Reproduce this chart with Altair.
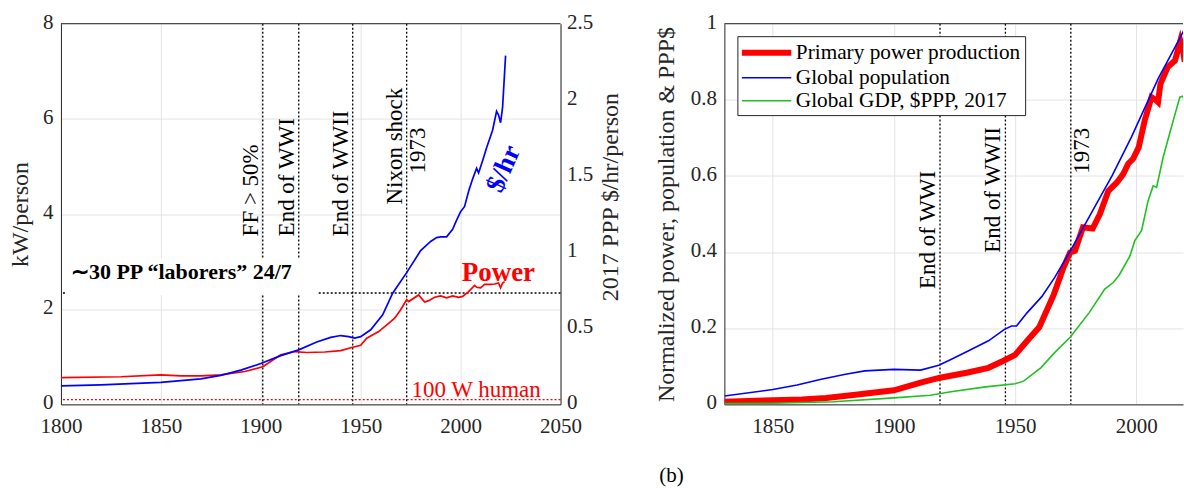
import altair as alt
import pandas as pd

FONT = "Liberation Serif"
INK = "#262626"

# ---------------- Panel (a): per-person power and wage ----------------
power_years = [1800, 1830, 1850, 1860, 1870, 1880, 1885, 1892, 1901, 1910, 1917, 1923,
               1932, 1940, 1946, 1950, 1953, 1959, 1965, 1967, 1970, 1973, 1974, 1979,
               1982, 1984, 1987, 1990, 1993, 1996, 1999, 2001, 2004, 2007, 2008, 2010,
               2012, 2015, 2017, 2019, 2020, 2021, 2022]
power_kw = [0.56, 0.58, 0.62, 0.60, 0.60, 0.62, 0.65, 0.69, 0.79, 1.04, 1.11, 1.09,
            1.10, 1.13, 1.20, 1.24, 1.39, 1.53, 1.74, 1.81, 1.99, 2.20, 2.16, 2.30,
            2.15, 2.18, 2.25, 2.28, 2.24, 2.28, 2.25, 2.27, 2.37, 2.50, 2.46, 2.45,
            2.52, 2.52, 2.53, 2.55, 2.45, 2.55, 2.58]

wage_years = [1800, 1820, 1850, 1870, 1880, 1890, 1900, 1910, 1919, 1928, 1935, 1940,
              1944, 1947, 1950, 1955, 1961, 1966, 1973, 1980, 1985, 1988, 1990, 1993,
              1996, 1998, 2000, 2002, 2004, 2006, 2008, 2009, 2011, 2013, 2016, 2018,
              2019, 2020, 2021, 2022.5]
wage_usd = [0.121, 0.128, 0.145, 0.167, 0.190, 0.225, 0.268, 0.320, 0.358, 0.410, 0.440, 0.452,
            0.445, 0.435, 0.445, 0.490, 0.588, 0.730, 0.865, 1.010, 1.070, 1.095, 1.100, 1.100,
            1.150, 1.210, 1.265, 1.300, 1.400, 1.480, 1.550, 1.520, 1.600, 1.685, 1.800, 1.925,
            1.900, 1.850, 1.950, 2.290]

events_a_years = [1901, 1919, 1946, 1973]
events_a_labels = ["FF > 50%", "End of WWI", "End of WWII", "Nixon shock"]
laborers_kw = 2.34
human_kw = 0.1

# ---------------- Panel (b): normalized series ----------------
series_names = ["Primary power production", "Global population", "Global GDP, $PPP, 2017"]

pp_years = [1830, 1850, 1862, 1872, 1885, 1900, 1911, 1919, 1930, 1939, 1945, 1950, 1955,
            1960, 1966, 1970, 1972.7, 1974.7, 1978, 1982, 1985, 1988.5, 1992, 1994.6,
            1996.7, 1998.7, 2001, 2003.5, 2006.3, 2008, 2009, 2010, 2013, 2016, 2018.2,
            2019.3, 2020]
pp_vals = [0.007, 0.011, 0.013, 0.017, 0.026, 0.037, 0.057, 0.070, 0.083, 0.096, 0.114, 0.130,
           0.167, 0.203, 0.289, 0.360, 0.399, 0.403, 0.465, 0.462, 0.500, 0.561, 0.583, 0.605,
           0.632, 0.645, 0.675, 0.746, 0.807, 0.800, 0.794, 0.842, 0.886, 0.903, 0.955,
           0.930, 0.900]

pop_years = [1830, 1850, 1860, 1870, 1880, 1888, 1900, 1911, 1918.5, 1923.5, 1930.6, 1939,
             1945.6, 1948.5, 1950.6, 1955, 1961, 1966.3, 1972.8, 1984.3, 1990, 1998, 2009,
             2018.6, 2021]
pop_vals = [0.022, 0.039, 0.051, 0.066, 0.079, 0.088, 0.092, 0.090, 0.103, 0.118, 0.140, 0.167,
            0.197, 0.206, 0.206, 0.241, 0.283, 0.333, 0.403, 0.535, 0.600, 0.702, 0.855,
            0.969, 1.000]

gdp_years = [1830, 1850, 1875, 1900, 1915, 1923.5, 1937.8, 1950, 1953.5, 1960.6, 1966.3,
             1972.8, 1980.6, 1987, 1990.5, 1993, 1997.4, 1999.4, 2002.2, 2004.9, 2007,
             2008.4, 2011.1, 2014.5, 2018, 2019.3, 2020]
gdp_vals = [0.002, 0.003, 0.007, 0.017, 0.024, 0.033, 0.046, 0.054, 0.061, 0.096, 0.136,
            0.177, 0.241, 0.303, 0.320, 0.340, 0.390, 0.430, 0.456, 0.535, 0.574,
            0.570, 0.649, 0.728, 0.807, 0.810, 0.790]

events_b_years = [1919, 1946, 1973]
events_b_labels = ["End of WWI", "End of WWII", "1973"]

# =====================================================================
# Panel (a)
# =====================================================================
xa = alt.X("year:Q", scale=alt.Scale(domain=[1800, 2050], nice=False, zero=False),
           axis=alt.Axis(values=[1800, 1850, 1900, 1950, 2000, 2050], format="d",
                         title=None, grid=True, tickSize=0, labelPadding=11))
ya = alt.Y("kw:Q", scale=alt.Scale(domain=[0, 8], nice=False, zero=True),
           axis=alt.Axis(values=[0, 2, 4, 6, 8], format="~g", title="kW/person",
                         grid=True, tickSize=0, labelPadding=8, titlePadding=10,
                         labelOffset=-1.5))

df_power = pd.DataFrame({"year": power_years, "kw": power_kw})
df_wage = pd.DataFrame({"year": wage_years, "usd": wage_usd})

vlines_a = alt.Chart(pd.DataFrame({"year": events_a_years})).mark_rule(
    color="black", strokeDash=[2, 2], strokeWidth=1.3).encode(x=xa)
hline_lab = alt.Chart(pd.DataFrame({"kw": [laborers_kw]})).mark_rule(
    color="black", strokeDash=[2, 2], strokeWidth=1.3).encode(y=ya)
hline_human = alt.Chart(pd.DataFrame({"kw": [human_kw]})).mark_rule(
    color="#ff0000", strokeDash=[2, 2], strokeWidth=1.3).encode(y=ya)
top_a = alt.Chart(pd.DataFrame({"k": [0]})).mark_rule(
    color=INK, strokeWidth=1).encode(y=alt.value(0))

box = alt.Chart(pd.DataFrame({"year": [1803], "year2": [1928.5],
                              "kw": [2.30], "kw2": [3.07]})).mark_rect(
    color="white").encode(x=xa, x2="year2:Q", y=ya, y2="kw2:Q")
lab_text = alt.Chart(pd.DataFrame({"year": [1805], "kw": [2.79],
                                   "t": ["\u223c30 PP \u201claborers\u201d 24/7"]})).mark_text(
    align="left", baseline="middle", font=FONT, fontSize=22, fontWeight="bold",
    color="black").encode(x=xa, y=ya, text="t:N")

ev_a = alt.Chart(pd.DataFrame({"year": events_a_years, "kw": [3.53, 3.53, 3.53, 4.20],
                               "t": events_a_labels})).mark_text(
    angle=270, align="left", baseline="bottom", font=FONT, fontSize=23,
    color="black").encode(x=xa, y=ya, text="t:N")
ev_a2 = alt.Chart(pd.DataFrame({"year": [1973], "kw": [4.85], "t": ["1973"]})).mark_text(
    angle=270, align="left", baseline="top", font=FONT, fontSize=23,
    color="black").encode(x=xa, y=ya, text="t:N")

red_line = alt.Chart(df_power).mark_line(color="#ff0000", strokeWidth=1.7).encode(x=xa, y=ya)

power_lbl = alt.Chart(pd.DataFrame({"year": [2018.9], "kw": [2.76], "t": ["Power"]})).mark_text(
    align="center", baseline="middle", font=FONT, fontSize=27, fontWeight="bold",
    color="#ff0000").encode(x=xa, y=ya, text="t:N")
human_lbl = alt.Chart(pd.DataFrame({"year": [1975.4], "kw": [0.30], "t": ["100 W human"]})).mark_text(
    align="left", baseline="middle", font=FONT, fontSize=23,
    color="#ff0000").encode(x=xa, y=ya, text="t:N")
usd_lbl = alt.Chart(pd.DataFrame({"year": [2021.6], "kw": [4.95], "t": ["$/hr"]})).mark_text(
    align="center", baseline="middle", font=FONT, fontSize=27, fontWeight="bold", angle=294,
    color="#0000ff").encode(x=xa, y=ya, text="t:N")

kw_group = alt.layer(vlines_a, hline_lab, hline_human, box, lab_text, ev_a, ev_a2,
                     red_line, power_lbl, human_lbl, usd_lbl, top_a)

yr = alt.Y("usd:Q", scale=alt.Scale(domain=[0, 2.5], nice=False, zero=True),
           axis=alt.Axis(orient="right", values=[0, 0.5, 1, 1.5, 2, 2.5], format="~g",
                         title="2017 PPP $/hr/person", titleAngle=270, titleBaseline="top",
                         grid=False, tickSize=0, labelPadding=6, titlePadding=6, titleY=173,
                         labelOffset=-1.5))
blue_line = alt.Chart(df_wage).mark_line(color="#0000ff", strokeWidth=1.7).encode(x=xa, y=yr)

left = alt.layer(kw_group, blue_line).resolve_scale(y="independent").properties(
    width=500, height=381)

# =====================================================================
# Panel (b)
# =====================================================================
xb = alt.X("year:Q", scale=alt.Scale(domain=[1830, 2019.3], nice=False, zero=False),
           axis=alt.Axis(values=[1850, 1900, 1950, 2000], format="d", title=None,
                         grid=True, tickSize=0, labelPadding=11))
yb = alt.Y("val:Q", scale=alt.Scale(domain=[0, 1], nice=False, zero=True),
           axis=alt.Axis(values=[0, 0.2, 0.4, 0.6, 0.8, 1], format="~g",
                         title="Normalized power, population & PPP$", grid=True,
                         tickSize=0, labelPadding=8, titlePadding=12, labelOffset=-1.5))

leg = alt.Legend(title=None, orient="none", legendX=677, legendY=12.5,
                 symbolType="M-1.263,0H3.94", symbolSize=361, labelFont=FONT,
                 labelFontSize=21.3, labelColor="black", fillColor="white", strokeColor=INK,
                 padding=4, rowPadding=1, labelLimit=400, labelOffset=29.5, cornerRadius=0)
col = alt.Color("series:N", scale=alt.Scale(domain=series_names,
                                            range=["#ff0000", "#0000ff", "#22c022"]),
                legend=leg)
sw = alt.StrokeWidth("series:N", scale=alt.Scale(type="ordinal", domain=series_names,
                                                 range=[6, 1.6, 1.6]),
                     legend=leg)

df_pp = pd.DataFrame({"year": pp_years, "val": pp_vals, "series": series_names[0]})
df_pop = pd.DataFrame({"year": pop_years, "val": pop_vals, "series": series_names[1]})
df_gdp = pd.DataFrame({"year": gdp_years, "val": gdp_vals, "series": series_names[2]})

vlines_b = alt.Chart(pd.DataFrame({"year": events_b_years})).mark_rule(
    color="black", strokeDash=[2, 2], strokeWidth=1.3).encode(x=xb)
ev_b = alt.Chart(pd.DataFrame({"year": events_b_years[:2], "val": [0.303, 0.398],
                               "t": events_b_labels[:2]})).mark_text(
    angle=270, align="left", baseline="bottom", font=FONT, fontSize=23,
    color="black").encode(x=xb, y=yb, text="t:N")
ev_b2 = alt.Chart(pd.DataFrame({"year": [events_b_years[2]], "val": [0.606],
                                "t": [events_b_labels[2]]})).mark_text(
    angle=270, align="left", baseline="top", font=FONT, fontSize=23,
    color="black").encode(x=xb, y=yb, text="t:N")

l_pp = alt.Chart(df_pp).mark_line(clip=True).encode(x=xb, y=yb, color=col, strokeWidth=sw)
l_pop = alt.Chart(df_pop).mark_line(clip=True).encode(x=xb, y=yb, color=col, strokeWidth=sw)
l_gdp = alt.Chart(df_gdp).mark_line(clip=True).encode(x=xb, y=yb, color=col, strokeWidth=sw)

top_b = alt.Chart(pd.DataFrame({"k": [0]})).mark_rule(
    color=INK, strokeWidth=1).encode(y=alt.value(0))
panel_b = alt.Chart(pd.DataFrame({"t": ["(b)"]})).mark_text(
    align="center", baseline="middle", font=FONT, fontSize=21, color="black").encode(
    x=alt.value(-53), y=alt.value(453), text="t:N")

right = alt.layer(vlines_b, ev_b, ev_b2, l_pp, l_pop, l_gdp, top_b, panel_b).properties(
    width=459, height=381)

chart = alt.hconcat(left, right, spacing=164, bounds="flush").properties(
    padding={"left": 8, "top": 10.5, "right": 0, "bottom": 0}
).configure_view(stroke=None).configure_axis(
    labelFont=FONT, labelFontSize=21, labelColor=INK, labelFlush=False,
    titleFont=FONT, titleFontSize=24, titleFontWeight="normal", titleColor=INK,
    domainColor=INK, domainWidth=1, gridColor="#e3e3e3", gridWidth=1
)

chart.save("out.html", embed_options={"renderer": "svg", "actions": False})
